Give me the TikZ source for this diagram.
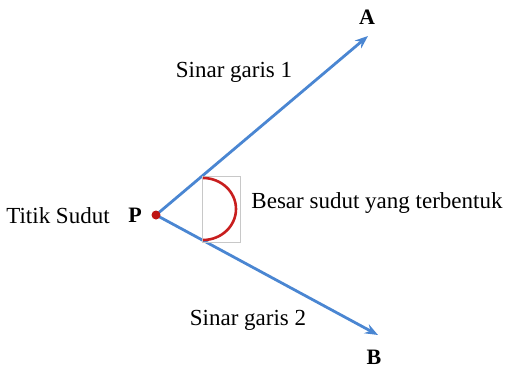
\documentclass[tikz,border=0pt]{standalone}
\usepackage{fontspec}
\setmainfont{Liberation Serif}
\usepackage{tikz}
\usetikzlibrary{calc,arrows.meta}
\definecolor{rayblue}{RGB}{74, 134, 210}
\definecolor{pointred}{RGB}{190, 20, 20}
\definecolor{arcred}{RGB}{200, 30, 30}
\definecolor{boxgray}{RGB}{200, 200, 200}

\begin{document}
\begin{tikzpicture}[x=1pt, y=-1pt, >={Stealth[length=13pt,width=10pt]}]
  \useasboundingbox (0,0) rectangle (507,368);
  \tikzset{
    lbl/.style={font=\fontsize{23}{27}\selectfont, inner sep=0pt},
    ptlbl/.style={font=\fontsize{22}{26}\selectfont\bfseries, inner sep=0pt}
  }

  % Vertex and ray ends
  \coordinate (P) at (156,215);
  \coordinate (tipA) at (368,36);
  \coordinate (tipB) at (378,335);

  % Rays
  \draw[->, line width=2.8pt, rayblue] (P) -- (tipA);
  \draw[->, line width=2.8pt, rayblue] (P) -- (tipB);

  % Angle mark
  \draw[boxgray, line width=0.8pt] (202,176) rectangle (240,242);
  \draw[arcred, line width=2.6pt] (203,178) arc[start angle=-90, end angle=90, x radius=33, y radius=31];

  % Vertex point
  \fill[pointred] (P) circle (4.5pt);

  % Labels
  \node[ptlbl] (labA) at (367,17) {A};
  \node[ptlbl] (labB) at (374,357) {B};
  \node[ptlbl] (labP) at (135,215) {P};
  \node[lbl] (vertex) at (58,216) {Titik Sudut};
  \node[lbl] (ray1) at (234,72) {Sinar garis 1};
  \node[lbl] (ray2) at (248,320) {Sinar garis 2};
  \node[lbl] (angle) at (377,203) {Besar sudut yang terbentuk};
\end{tikzpicture}
\end{document}
